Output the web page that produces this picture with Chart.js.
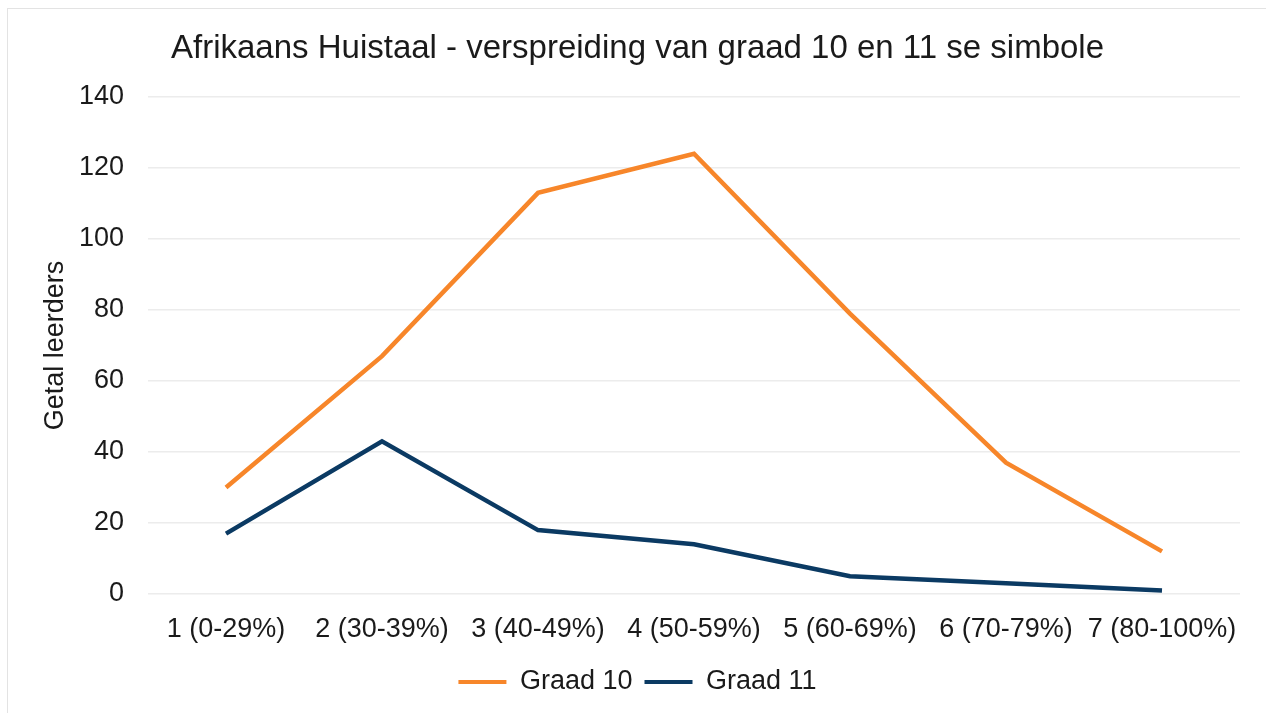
<!DOCTYPE html>
<html lang="en">
<head>
  <meta charset="UTF-8">
  <title>Afrikaans Huistaal</title>
  <style>
    html, body { margin: 0; padding: 0; background: #fff; overflow: hidden; }
    #frame { position: absolute; left: 7px; top: 8px; width: 1300px; height: 800px; border: 1px solid #e3e3e3; }
    #wrap { position: absolute; left: 0; top: 0; width: 1266px; height: 713px; }
  </style>
</head>
<body>
  <div id="frame"></div>
  <div id="wrap">
    <canvas id="myChart"></canvas>
  </div>

  <script src="https://cdn.jsdelivr.net/npm/chart.js"></script>
  <script>
    const categories = ['1 (0-29%)', '2 (30-39%)', '3 (40-49%)', '4 (50-59%)', '5 (60-69%)', '6 (70-79%)', '7 (80-100%)'];
    const graad10 = [30, 67, 113, 124, 79, 37, 12];
    const graad11 = [17, 43, 18, 14, 5, 3, 1];
    const yTicks = [0, 20, 40, 60, 80, 100, 120, 140];

    const orange = '#f7862a';
    const navy = '#0b3a63';
    const font = '"Liberation Sans", Arial, sans-serif';

    const ctx = document.getElementById('myChart');
    const myChart = new Chart(ctx, {
      type: 'line',
      data: {
        labels: categories,
        datasets: [
          { label: 'Graad 10', data: graad10, borderColor: orange, backgroundColor: orange, borderWidth: 4.5, pointRadius: 0, tension: 0 },
          { label: 'Graad 11', data: graad11, borderColor: navy, backgroundColor: navy, borderWidth: 4.5, pointRadius: 0, tension: 0 }
        ]
      },
      options: {
        responsive: true,
        maintainAspectRatio: false,
        animation: false,
        layout: { padding: { left: 35, right: 26, top: 20, bottom: 7.5 } },
        plugins: {
          title: {
            display: true,
            text: 'Afrikaans Huistaal - verspreiding van graad 10 en 11 se simbole',
            color: '#1a1a1a',
            font: { family: font, size: 33, weight: 'normal' },
            padding: { top: 9, bottom: 28.4 }
          },
          legend: {
            position: 'bottom',
            labels: {
              color: '#1a1a1a',
              font: { family: font, size: 27 },
              boxWidth: 48,
              boxHeight: 4,
              padding: 12,
              generateLabels(chart) {
                const items = Chart.defaults.plugins.legend.labels.generateLabels(chart);
                items.forEach(it => { it.lineWidth = 0; });
                return items;
              }
            }
          },
          tooltip: { enabled: false }
        },
        scales: {
          x: {
            offset: true,
            grid: { display: false, drawTicks: false },
            border: { display: false },
            ticks: { color: '#1a1a1a', font: { family: font, size: 27 }, padding: 19, maxRotation: 0, autoSkip: false },
            afterFit(scale) { scale.height = 62.5; }
          },
          y: {
            min: 0,
            max: 140,
            afterBuildTicks(scale) { scale.ticks = yTicks.map(v => ({ value: v })); },
            grid: { color: '#ececec', lineWidth: 1.5, drawTicks: false },
            border: { display: false },
            ticks: { color: '#1a1a1a', font: { family: font, size: 27 }, padding: 24 },
            title: {
              display: true,
              text: 'Getal leerders',
              color: '#1a1a1a',
              font: { family: font, size: 27 },
              padding: { top: 4, bottom: 4 }
            },
            afterFit(scale) { scale.width = 113; }
          }
        }
      }
    });
  </script>
</body>
</html>
